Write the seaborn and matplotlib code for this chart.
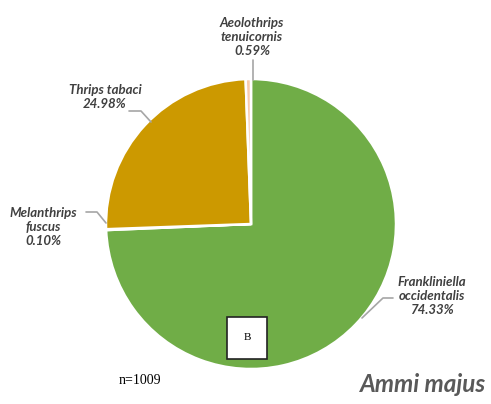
import numpy as np
import pandas as pd
import matplotlib.pyplot as plt
import seaborn as sns

species = ['Frankliniella\noccidentalis', 'Melanthrips\nfuscus', 'Thrips tabaci', 'Aeolothrips\ntenuicornis']
shares = [74.33, 0.10, 24.98, 0.59]
colors = ['#70AD47', '#5B9BD5', '#CC9900', '#F8CBAD']
n_total = 1009

sns.set_theme(style='white')
plt.rcParams['font.family'] = ['Lato', 'DejaVu Sans']

df = pd.DataFrame({'species': species, 'share': shares})

fig = plt.figure(figsize=(4.91, 4.04), dpi=100)
ax = fig.add_axes([0, 0, 1, 1])

ax.pie(df['share'], colors=colors, startangle=90, counterclock=False,
       radius=1, wedgeprops=dict(edgecolor='white', linewidth=1.8))

# pie centred at pixel (251, 224), radius 145 px
r = 145
ax.set_xlim(-251 / r, (491 - 251) / r)
ax.set_ylim(-(404 - 224) / r, 224 / r)
ax.set_aspect('equal')
ax.axis('off')

def px(x, y):
    return ((x - 251) / r, (224 - y) / r)

lab_style = dict(fontsize=9.5, fontweight='bold', fontstyle='italic', color='#404040',
                 ha='center', va='center', linespacing=1.2)
line_style = dict(color='#A6A6A6', linewidth=1.2)

# label texts with percentages, positioned like the Excel data labels
texts = [f'{s}\n{v:.2f}%' for s, v in zip(df['species'], df['share'])]
label_pos = [(432, 296), (43, 227), (105, 97), (252, 37)]
leaders = [
    [(393, 298), (383, 298), (362, 318)],
    [(86, 212), (97, 212), (106, 223)],
    [(129, 111), (141, 111), (151, 122)],
    [(253, 60), (253, 80)],
]
for t, p, ln in zip(texts, label_pos, leaders):
    ax.text(*px(*p), t, **lab_style)
    pts = np.array([px(*q) for q in ln])
    ax.plot(pts[:, 0], pts[:, 1], **line_style)

ax.text(*px(247, 338), 'B', fontsize=8, family='Liberation Serif', ha='center', va='center',
        color='black',
        bbox=dict(boxstyle='square,pad=1.5', facecolor='white', edgecolor='#222222', linewidth=1.2))
ax.text(*px(140, 380), f'n={n_total}', fontsize=10, family='Liberation Serif',
        ha='center', va='center', color='black')
ax.text(*px(423, 385), 'Ammi majus', fontsize=17.5, fontweight='bold', fontstyle='italic',
        color='#595959', ha='center', va='center')

fig.savefig('out.png', dpi=100)
